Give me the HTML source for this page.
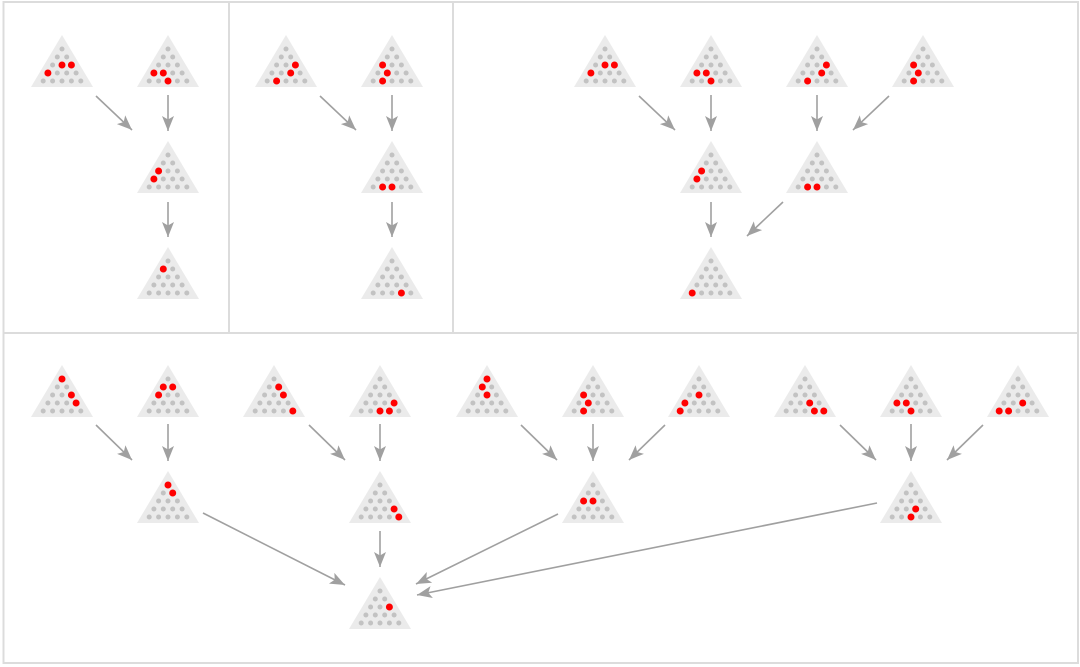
<!DOCTYPE html>
<html><head><meta charset="utf-8"><style>
html,body{margin:0;padding:0;background:#fff;}
svg{display:block;}
</style></head><body>
<svg width="1080" height="667" viewBox="0 0 1080 667" xmlns="http://www.w3.org/2000/svg">
<defs>
<marker id="ah" markerUnits="userSpaceOnUse" markerWidth="16" markerHeight="12" refX="15" refY="6" orient="auto">
<path d="M0,0 L15,6 L0,12 L3.5,6 Z" fill="#a0a0a0"/>
</marker>
<g id="t">
<polygon points="0,0 -31,52 31,52" fill="#ebebeb"/>
<g fill="#c2c2c2">
<circle cx="0" cy="14" r="2.5"/>
<circle cx="-4.7" cy="22" r="2.5"/><circle cx="4.7" cy="22" r="2.5"/>
<circle cx="-9.4" cy="30" r="2.5"/><circle cx="0" cy="30" r="2.5"/><circle cx="9.4" cy="30" r="2.5"/>
<circle cx="-14.1" cy="38" r="2.5"/><circle cx="-4.7" cy="38" r="2.5"/><circle cx="4.7" cy="38" r="2.5"/><circle cx="14.1" cy="38" r="2.5"/>
<circle cx="-18.8" cy="46" r="2.5"/><circle cx="-9.4" cy="46" r="2.5"/><circle cx="0" cy="46" r="2.5"/><circle cx="9.4" cy="46" r="2.5"/><circle cx="18.8" cy="46" r="2.5"/>
</g>
</g>
<circle id="r00" cx="0" cy="14" r="3.5" fill="#f00"/>
<circle id="r10" cx="-4.7" cy="22" r="3.5" fill="#f00"/>
<circle id="r11" cx="4.7" cy="22" r="3.5" fill="#f00"/>
<circle id="r20" cx="-9.4" cy="30" r="3.5" fill="#f00"/>
<circle id="r21" cx="0" cy="30" r="3.5" fill="#f00"/>
<circle id="r22" cx="9.4" cy="30" r="3.5" fill="#f00"/>
<circle id="r30" cx="-14.1" cy="38" r="3.5" fill="#f00"/>
<circle id="r31" cx="-4.7" cy="38" r="3.5" fill="#f00"/>
<circle id="r32" cx="4.7" cy="38" r="3.5" fill="#f00"/>
<circle id="r33" cx="14.1" cy="38" r="3.5" fill="#f00"/>
<circle id="r40" cx="-18.8" cy="46" r="3.5" fill="#f00"/>
<circle id="r41" cx="-9.4" cy="46" r="3.5" fill="#f00"/>
<circle id="r42" cx="0" cy="46" r="3.5" fill="#f00"/>
<circle id="r43" cx="9.4" cy="46" r="3.5" fill="#f00"/>
<circle id="r44" cx="18.8" cy="46" r="3.5" fill="#f00"/>
</defs>

<g fill="none" stroke="#dcdcdc" stroke-width="2">
<rect x="3.5" y="2" width="1074.5" height="661"/>
<line x1="3.5" y1="333" x2="1078" y2="333"/>
<line x1="229" y1="2" x2="229" y2="333"/>
<line x1="453" y1="2" x2="453" y2="333"/>
</g>

<g stroke="#a0a0a0" stroke-width="1.6" fill="none" marker-end="url(#ah)">
<line x1="96" y1="96" x2="132" y2="130"/>
<line x1="168" y1="95" x2="168" y2="131"/>
<line x1="168" y1="202" x2="168" y2="237"/>
<line x1="320" y1="96" x2="356" y2="130"/>
<line x1="392" y1="95" x2="392" y2="131"/>
<line x1="392" y1="202" x2="392" y2="237"/>
<line x1="639" y1="96" x2="675" y2="130"/>
<line x1="711" y1="95" x2="711" y2="131"/>
<line x1="817" y1="95" x2="817" y2="131"/>
<line x1="889" y1="96" x2="853" y2="130"/>
<line x1="711" y1="202" x2="711" y2="237"/>
<line x1="783" y1="202" x2="747" y2="236"/>

<line x1="96" y1="425" x2="132" y2="460"/>
<line x1="168" y1="424" x2="168" y2="461"/>
<line x1="309" y1="425" x2="345" y2="460"/>
<line x1="380" y1="424" x2="380" y2="461"/>
<line x1="521" y1="425" x2="557" y2="460"/>
<line x1="593" y1="424" x2="593" y2="461"/>
<line x1="665" y1="425" x2="629" y2="460"/>
<line x1="840" y1="425" x2="876" y2="460"/>
<line x1="911" y1="424" x2="911" y2="461"/>
<line x1="983" y1="425" x2="947" y2="460"/>

<line x1="203" y1="513" x2="345" y2="585"/>
<line x1="380" y1="531" x2="380" y2="567"/>
<line x1="558" y1="514" x2="416" y2="584"/>
<line x1="877" y1="503" x2="417" y2="595"/>
</g>

<g transform="translate(62,35)"><use href="#t"/><use href="#r21"/><use href="#r22"/><use href="#r30"/></g>
<g transform="translate(168,35)"><use href="#t"/><use href="#r30"/><use href="#r31"/><use href="#r42"/></g>
<g transform="translate(168,141)"><use href="#t"/><use href="#r20"/><use href="#r30"/></g>
<g transform="translate(168,247)"><use href="#t"/><use href="#r10"/></g>

<g transform="translate(286,35)"><use href="#t"/><use href="#r22"/><use href="#r32"/><use href="#r41"/></g>
<g transform="translate(392,35)"><use href="#t"/><use href="#r20"/><use href="#r31"/><use href="#r41"/></g>
<g transform="translate(392,141)"><use href="#t"/><use href="#r41"/><use href="#r42"/></g>
<g transform="translate(392,247)"><use href="#t"/><use href="#r43"/></g>

<g transform="translate(605,35)"><use href="#t"/><use href="#r21"/><use href="#r22"/><use href="#r30"/></g>
<g transform="translate(711,35)"><use href="#t"/><use href="#r30"/><use href="#r31"/><use href="#r42"/></g>
<g transform="translate(817,35)"><use href="#t"/><use href="#r22"/><use href="#r32"/><use href="#r41"/></g>
<g transform="translate(923,35)"><use href="#t"/><use href="#r20"/><use href="#r31"/><use href="#r41"/></g>
<g transform="translate(711,141)"><use href="#t"/><use href="#r20"/><use href="#r30"/></g>
<g transform="translate(817,141)"><use href="#t"/><use href="#r41"/><use href="#r42"/></g>
<g transform="translate(711,247)"><use href="#t"/><use href="#r40"/></g>

<g transform="translate(62,365)"><use href="#t"/><use href="#r00"/><use href="#r22"/><use href="#r33"/></g>
<g transform="translate(168,365)"><use href="#t"/><use href="#r10"/><use href="#r11"/><use href="#r20"/></g>
<g transform="translate(274,365)"><use href="#t"/><use href="#r11"/><use href="#r22"/><use href="#r44"/></g>
<g transform="translate(380,365)"><use href="#t"/><use href="#r33"/><use href="#r42"/><use href="#r43"/></g>
<g transform="translate(487,365)"><use href="#t"/><use href="#r00"/><use href="#r10"/><use href="#r21"/></g>
<g transform="translate(593,365)"><use href="#t"/><use href="#r20"/><use href="#r31"/><use href="#r41"/></g>
<g transform="translate(699,365)"><use href="#t"/><use href="#r21"/><use href="#r30"/><use href="#r40"/></g>
<g transform="translate(805,365)"><use href="#t"/><use href="#r32"/><use href="#r43"/><use href="#r44"/></g>
<g transform="translate(911,365)"><use href="#t"/><use href="#r30"/><use href="#r31"/><use href="#r42"/></g>
<g transform="translate(1018,365)"><use href="#t"/><use href="#r32"/><use href="#r40"/><use href="#r41"/></g>

<g transform="translate(168,471)"><use href="#t"/><use href="#r00"/><use href="#r11"/></g>
<g transform="translate(380,471)"><use href="#t"/><use href="#r33"/><use href="#r44"/></g>
<g transform="translate(593,471)"><use href="#t"/><use href="#r20"/><use href="#r21"/></g>
<g transform="translate(911,471)"><use href="#t"/><use href="#r32"/><use href="#r42"/></g>

<g transform="translate(380,577)"><use href="#t"/><use href="#r22"/></g>
</svg>
</body></html>
